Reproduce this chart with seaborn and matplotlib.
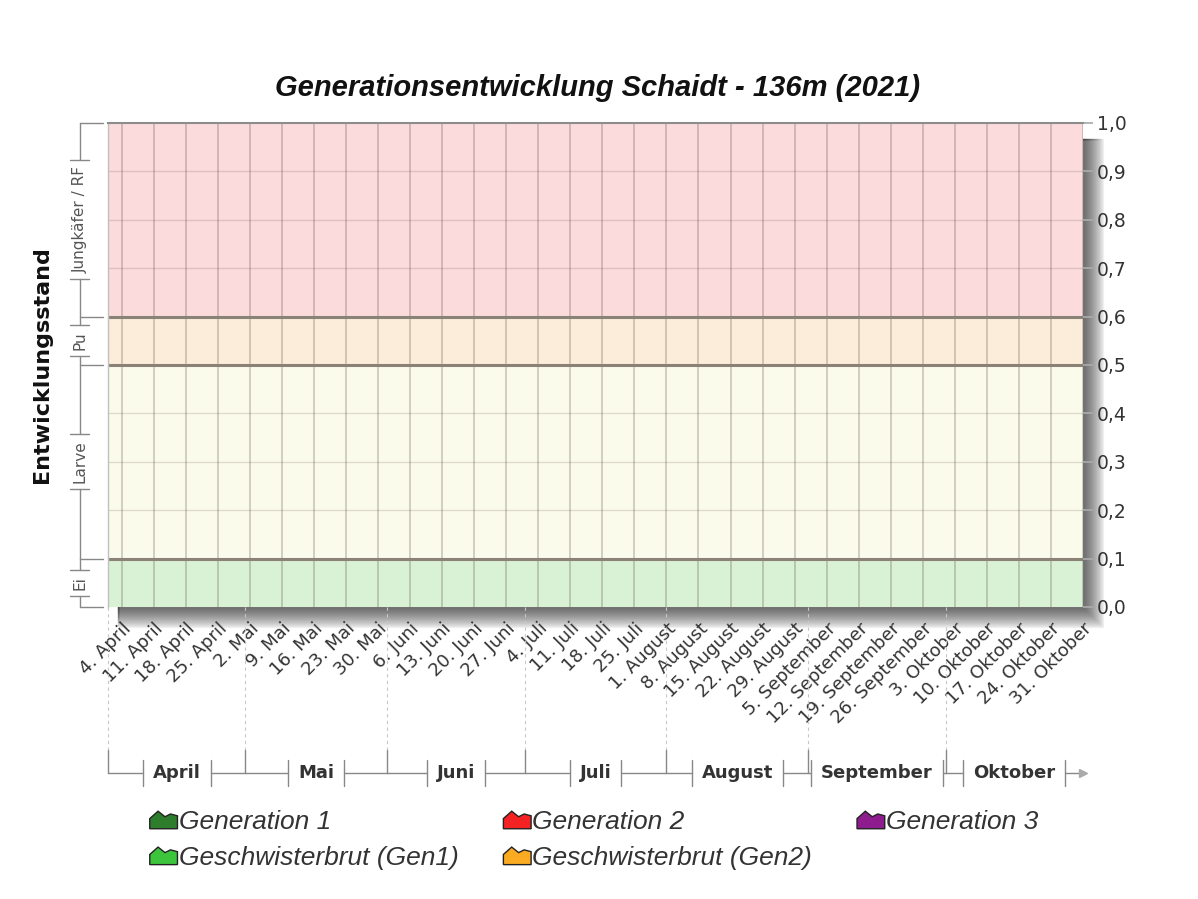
"""Generationsentwicklung chart (empty season, stage bands only)."""
import numpy as np
import pandas as pd
import matplotlib
matplotlib.use("Agg")
import matplotlib.pyplot as plt
import matplotlib.dates as mdates
from matplotlib.patches import Polygon, Patch, Rectangle
from matplotlib.legend_handler import HandlerPatch
from matplotlib.ticker import FuncFormatter
import seaborn as sns

title = "Generationsentwicklung Schaidt - 136m (2021)"
y_label = "Entwicklungsstand"

# development stages (y bands)
stage_names = ["Ei", "Larve", "Pu", "Jungkäfer / RF"]
stage_bounds = [0.0, 0.1, 0.5, 0.6, 1.0]
stage_colors = ["#d9f1d5", "#fbfbec", "#fcecda", "#fbdbdb"]

# months shown on the x axis
month_names = ["April", "Mai", "Juni", "Juli", "August", "September", "Oktober"]
month_starts = pd.to_datetime(["2021-04-01", "2021-05-01", "2021-06-01", "2021-07-01",
                               "2021-08-01", "2021-09-01", "2021-10-01"])
x_start = pd.Timestamp("2021-04-01")
x_end = pd.Timestamp("2021-10-31")
week_ticks = pd.date_range("2021-04-04", "2021-10-31", freq="7D")

# series (no values for this station/year)
series_names = ["Generation 1", "Geschwisterbrut (Gen1)", "Generation 2",
                "Geschwisterbrut (Gen2)", "Generation 3"]
series_colors = ["#2d7d2d", "#3cc43c", "#f42222", "#fbab22", "#8e1c8e"]
series_dates = [[], [], [], [], []]
series_values = [[], [], [], [], []]

sns.set_theme(style="white")
plt.rcParams["font.family"] = ["DejaVu Sans"]

fig = plt.figure(figsize=(11.98, 8.99), dpi=100)
ax = fig.add_axes([108 / 1198, 1 - 607 / 899, 975 / 1198, 484 / 899])
ax.set_zorder(2)

# drop shadow behind plot area
for i in range(20, 0, -1):
    fig.patches.append(Rectangle(((108 + 10) / 1198, 1 - (607 + i) / 899),
                                 (975 + i - 10) / 1198, (484 - 16 + i) / 899,
                                 transform=fig.transFigure, color="black",
                                 alpha=0.035, zorder=-5))

ax.set_xlim(x_start, x_end)
ax.set_ylim(0, 1)

# stage bands
for lo, hi, col in zip(stage_bounds[:-1], stage_bounds[1:], stage_colors):
    ax.axhspan(lo, hi, color=col, zorder=0, lw=0)

# grid
for d in week_ticks:
    ax.axvline(d, color="#5a4a40", alpha=0.3, lw=1.2, zorder=1)
for yv in np.arange(0.1, 1.0, 0.1):
    ax.axhline(yv, color="#5a4a40", alpha=0.18, lw=1.0, zorder=1)
for yv in stage_bounds[1:-1]:
    ax.axhline(yv, color="#8a8276", lw=2.2, zorder=2)

# series (empty)
for dates, vals, col in zip(series_dates, series_values, series_colors):
    if len(vals):
        ax.fill_between(pd.to_datetime(dates), vals, color=col, alpha=0.8, zorder=3)

for s in ["bottom", "right"]:
    ax.spines[s].set_visible(False)
ax.spines["top"].set_color("#8c8c8c")
ax.spines["top"].set_linewidth(1.5)
ax.spines["left"].set_color("#c0c0c0")
ax.spines["left"].set_linewidth(1.0)

ax.yaxis.tick_right()
ax.set_yticks(np.arange(0, 1.01, 0.1))
ax.yaxis.set_major_formatter(FuncFormatter(lambda v, p: f"{v:.1f}".replace(".", ",")))
ax.tick_params(axis="y", length=7, color="#aaaaaa", labelsize=13.5, labelcolor="#333333", pad=3)

ax.set_xticks(week_ticks)
ax.set_xticklabels([f"{d.day}. {month_names[d.month - 4]}" for d in week_ticks],
                   rotation=45, ha="right", rotation_mode="anchor")
ax.tick_params(axis="x", length=5, color="#999999", labelsize=13, labelcolor="#333333", pad=4)

# title and y label
fig.text(598 / 1198, 1 - 88 / 899, title, ha="center", va="center", fontsize=21,
         fontweight="bold", fontstyle="italic", family="Liberation Sans", color="#111111")
fig.text(42 / 1198, 1 - 365 / 899, y_label, ha="center", va="center", rotation=90,
         fontsize=16, fontweight="bold", color="#111111")

# stage brackets on the left
ytr = ax.get_yaxis_transform()
bx = (80 - 108) / 975
stage_texts = []
for lo, hi, name in zip(stage_bounds[:-1], stage_bounds[1:], stage_names):
    stage_texts.append(ax.text(bx, (lo + hi) / 2, name, transform=ytr, rotation=90,
                               ha="center", va="center", fontsize=11, color="#555555"))
for yv in stage_bounds:
    ax.plot([bx, (103 - 108) / 975], [yv, yv], transform=ytr,
            color="#888888", lw=1, clip_on=False)

fig.canvas.draw()
renderer = fig.canvas.get_renderer()

# vertical bracket lines with gaps around stage labels
for txt, lo, hi in zip(stage_texts, stage_bounds[:-1], stage_bounds[1:]):
    bb = txt.get_window_extent(renderer)
    y0 = ax.transData.inverted().transform((0, bb.y0 - 6))[1]
    y1 = ax.transData.inverted().transform((0, bb.y1 + 6))[1]
    ax.plot([bx, bx], [lo, max(lo, y0)], transform=ytr, color="#888888", lw=1, clip_on=False)
    ax.plot([bx, bx], [min(hi, y1), hi], transform=ytr, color="#888888", lw=1, clip_on=False)
    for yy in (y0, y1):
        if lo < yy < hi:
            ax.plot([(70 - 108) / 975, (89 - 108) / 975], [yy, yy], transform=ytr,
                    color="#888888", lw=1, clip_on=False)

# month brackets below the axis
xtr = ax.get_xaxis_transform()
yb = (607 - 773) / 484
yd = (607 - 750) / 484
month_ends = list(month_starts[1:]) + [x_end]
for ms, me, name in zip(month_starts, month_ends, month_names):
    ax.plot([ms, ms], [0, yd], transform=xtr, color="#c8c8c8", lw=0.8, ls=(0, (3, 3)),
            clip_on=False)
    ax.plot([ms, ms], [yd, yb], transform=xtr, color="#888888", lw=1, clip_on=False)
    mid = ms + (me - ms) / 2
    lab = ax.text(mid, yb, name, transform=xtr, ha="center", va="center", fontsize=13,
                  fontweight="bold", color="#333333")
    bb = lab.get_window_extent(renderer)
    gx0 = mdates.num2date(ax.transData.inverted().transform((bb.x0 - 10, 0))[0]).replace(tzinfo=None)
    gx1 = mdates.num2date(ax.transData.inverted().transform((bb.x1 + 10, 0))[0]).replace(tzinfo=None)
    ax.plot([ms, max(ms, gx0)], [yb, yb], transform=xtr, color="#888888", lw=1, clip_on=False)
    ax.plot([min(me, gx1), me], [yb, yb], transform=xtr, color="#888888", lw=1, clip_on=False)
    for g in (gx0, gx1):
        ax.plot([g, g], [yb - 0.027, yb + 0.027], transform=xtr, color="#888888", lw=1,
                clip_on=False)
ax.plot([x_end], [yb], transform=xtr, marker=">", color="#aaaaaa", ms=6, clip_on=False)

# legend
def mountain(legend, orig_handle, xdescent, ydescent, width, height, fontsize):
    pts = np.array([[0, 0], [0, 0.55], [0.3, 0.95], [0.55, 0.65], [0.75, 0.8],
                    [1, 0.7], [1, 0]])
    pts[:, 0] = pts[:, 0] * width - xdescent
    pts[:, 1] = pts[:, 1] * height - ydescent
    return Polygon(pts, closed=True)

handles = [Patch(facecolor=c, edgecolor="#222222", label=n)
           for n, c in zip(series_names, series_colors)]
fig.legend(handles=handles, loc="upper left", bbox_to_anchor=(126 / 1198, 1 - 786 / 899),
           ncol=3, frameon=False, prop={"family": "Liberation Sans", "style": "italic", "size": 19},
           labelcolor="#333333", handlelength=1.05, handleheight=0.7, handletextpad=0.05,
           columnspacing=1.7, labelspacing=0.45,
           handler_map={Patch: HandlerPatch(patch_func=mountain)})

fig.savefig("out.png", dpi=100, facecolor="white")
